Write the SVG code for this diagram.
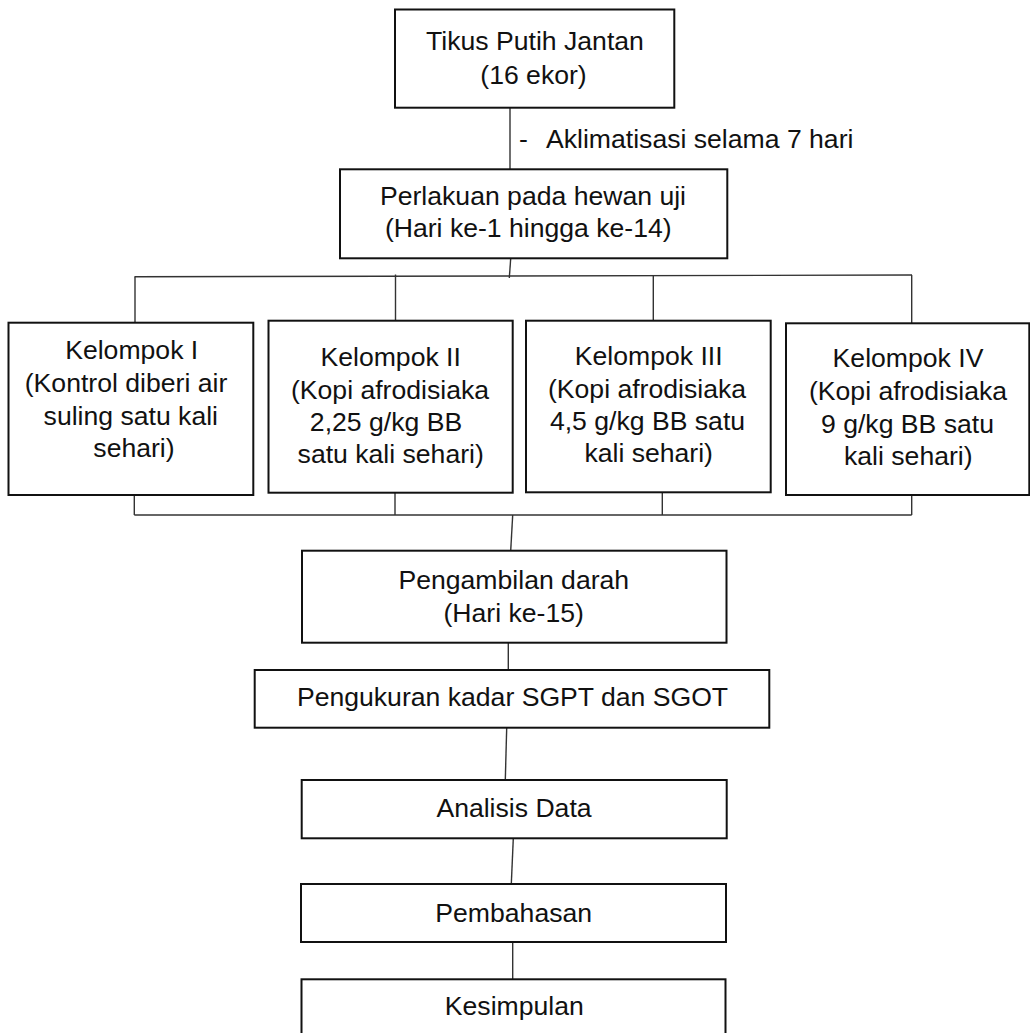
<svg xmlns="http://www.w3.org/2000/svg" width="1030" height="1033" viewBox="0 0 1030 1033">
<style>
.box{fill:#fff;stroke:#111;stroke-width:2}
.c{stroke:#333;stroke-width:1.4;fill:none}
text{font-family:"Liberation Sans",Arial,sans-serif;font-size:26.6px;fill:#111;text-anchor:middle}
.l{text-anchor:start}
</style>
<rect width="1030" height="1033" fill="#fff"/>
<g id="connectors">
<line class="c" x1="510" y1="108" x2="510" y2="169"/>
<line class="c" x1="510.7" y1="258.5" x2="509.3" y2="278"/>
<line class="c" x1="134.5" y1="276.8" x2="912" y2="275"/>
<line class="c" x1="135" y1="276.8" x2="135" y2="323"/>
<line class="c" x1="395.5" y1="274.5" x2="395.5" y2="320.7"/>
<line class="c" x1="653.3" y1="275.5" x2="653.3" y2="320.7"/>
<line class="c" x1="911.7" y1="275" x2="911.7" y2="323.3"/>
<line class="c" x1="134.3" y1="495" x2="134.3" y2="515"/>
<line class="c" x1="395" y1="492.7" x2="395" y2="515"/>
<line class="c" x1="662.3" y1="492.3" x2="662.3" y2="515"/>
<line class="c" x1="911.7" y1="495" x2="911.7" y2="515"/>
<line class="c" x1="134.3" y1="515" x2="911.7" y2="515"/>
<line class="c" x1="512.7" y1="515" x2="510.7" y2="550.7"/>
<line class="c" x1="508.3" y1="642.7" x2="508.3" y2="670"/>
<line class="c" x1="506.7" y1="727.7" x2="505.3" y2="780"/>
<line class="c" x1="513.3" y1="838.3" x2="511.3" y2="884"/>
<line class="c" x1="512.7" y1="942" x2="512.7" y2="979.3"/>
<text class="l" x="519" y="148.3">-</text>
<text class="l" x="546" y="148.3">Aklimatisasi selama 7 hari</text>
</g>
<g id="n-tikus">
<rect class="box" x="395" y="9.5" width="279.3" height="98.2"/>
<text x="535" y="50">Tikus Putih Jantan</text>
<text x="533.5" y="83.5">(16 ekor)</text>
</g>
<g id="n-perlakuan">
<rect class="box" x="340" y="169.3" width="387.3" height="89"/>
<text x="533" y="205">Perlakuan pada hewan uji</text>
<text x="528.3" y="237.3">(Hari ke-1 hingga ke-14)</text>
</g>
<g id="n-k1">
<rect class="box" x="8.5" y="322.7" width="244.8" height="172.3"/>
<text x="131.7" y="359.3">Kelompok I</text>
<text x="126" y="392">(Kontrol diberi air</text>
<text x="130.8" y="424.5">suling satu kali</text>
<text x="134" y="457">sehari)</text>
</g>
<g id="n-k2">
<rect class="box" x="268.5" y="320.7" width="244.2" height="172"/>
<text x="390.7" y="366">Kelompok II</text>
<text x="390" y="398.5">(Kopi afrodisiaka</text>
<text x="386" y="431">2,25 g/kg BB</text>
<text x="390.7" y="463.3">satu kali sehari)</text>
</g>
<g id="n-k3">
<rect class="box" x="526" y="320.7" width="244.7" height="171.6"/>
<text x="648.7" y="365">Kelompok III</text>
<text x="647" y="397.5">(Kopi afrodisiaka</text>
<text x="647.5" y="430">4,5 g/kg BB satu</text>
<text x="648.7" y="462.3">kali sehari)</text>
</g>
<g id="n-k4">
<rect class="box" x="786" y="323.3" width="243.3" height="171.7"/>
<text x="908" y="367.3">Kelompok IV</text>
<text x="908" y="399.5">(Kopi afrodisiaka</text>
<text x="907.5" y="432.5">9 g/kg BB satu</text>
<text x="908.3" y="464.5">kali sehari)</text>
</g>
<g id="n-pengambilan">
<rect class="box" x="302" y="550.7" width="424.5" height="92"/>
<text x="513.8" y="589.3">Pengambilan darah</text>
<text x="513.7" y="621.7">(Hari ke-15)</text>
</g>
<g id="n-pengukuran">
<rect class="box" x="254.7" y="670" width="514.6" height="57.7"/>
<text x="512.5" y="706">Pengukuran kadar SGPT dan SGOT</text>
</g>
<g id="n-analisis">
<rect class="box" x="301.7" y="780" width="425" height="58.3"/>
<text x="514" y="816.7">Analisis Data</text>
</g>
<g id="n-pembahasan">
<rect class="box" x="301" y="884" width="425" height="58"/>
<text x="513.7" y="921.7">Pembahasan</text>
</g>
<g id="n-kesimpulan">
<rect class="box" x="301.5" y="979.3" width="424" height="62"/>
<text x="514.3" y="1015">Kesimpulan</text>
</g>
</svg>
